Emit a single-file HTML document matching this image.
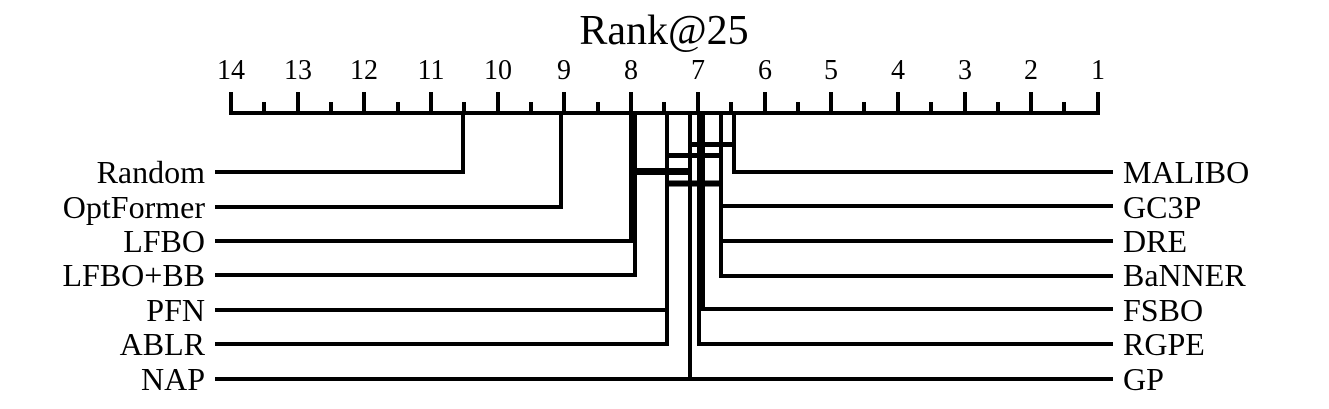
<!DOCTYPE html>
<html><head><meta charset="utf-8"><style>
html,body{margin:0;padding:0;background:#fff;}
svg{display:block;}
text{font-family:"Liberation Serif",serif;fill:#000;}
</style></head><body>
<svg width="1329" height="409" viewBox="0 0 1329 409" xmlns="http://www.w3.org/2000/svg">
<text x="664" y="44" font-size="42" text-anchor="middle">Rank@25</text>
<g font-size="28" text-anchor="middle">
<text x="231" y="79">14</text><text x="298" y="79">13</text><text x="364" y="79">12</text>
<text x="431" y="79">11</text><text x="498" y="79">10</text><text x="564" y="79">9</text>
<text x="631" y="79">8</text><text x="698" y="79">7</text><text x="765" y="79">6</text>
<text x="831" y="79">5</text><text x="898" y="79">4</text><text x="965" y="79">3</text>
<text x="1031" y="79">2</text><text x="1098" y="79">1</text>
</g>
<g stroke="#000" stroke-width="4" fill="none">
<line x1="229" y1="113" x2="1100" y2="113"/>
<path d="M231 92V113M298 92V113M364 92V113M431 92V113M498 92V113M564 92V113M631 92V113M698 92V113M765 92V113M831 92V113M898 92V113M965 92V113M1031 92V113M1098 92V113"/>
<path d="M264 102V113M331 102V113M398 102V113M464 102V113M531 102V113M598 102V113M664 102V113M731 102V113M798 102V113M864 102V113M931 102V113M998 102V113M1064 102V113"/>
<!-- left -->
<path d="M215 172H463V113"/>
<path d="M215 207H561V113"/>
<path d="M215 241H631V113"/>
<path d="M215 275H635V113"/>
<path d="M215 310H667V113"/>
<path d="M215 344H667V113"/>
<path d="M215 379H690V113"/>
<!-- right -->
<path d="M1113 172H734V113"/>
<path d="M1113 206H721V113"/>
<path d="M1113 241H721V113"/>
<path d="M1113 276H721V113"/>
<path d="M1113 309H703V113"/>
<path d="M1113 344H699V113"/>
<path d="M1113 379H690V113"/>
</g>
<g stroke="#000" fill="none">
<line x1="691" y1="144.5" x2="735" y2="144.5" stroke-width="5"/>
<line x1="665" y1="155.5" x2="723" y2="155.5" stroke-width="5"/>
<line x1="633" y1="171.5" x2="692" y2="171.5" stroke-width="7"/>
<line x1="665" y1="183.5" x2="723" y2="183.5" stroke-width="6"/>
</g>
<g font-size="32" text-anchor="end">
<text x="205" y="183">Random</text><text x="205" y="218">OptFormer</text>
<text x="205" y="252">LFBO</text><text x="205" y="286">LFBO+BB</text>
<text x="205" y="321">PFN</text><text x="205" y="355">ABLR</text>
<text x="205" y="390">NAP</text>
</g>
<g font-size="32">
<text x="1123" y="183">MALIBO</text><text x="1123" y="218">GC3P</text>
<text x="1123" y="252">DRE</text><text x="1123" y="286">BaNNER</text>
<text x="1123" y="321">FSBO</text><text x="1123" y="355">RGPE</text>
<text x="1123" y="390">GP</text>
</g>
</svg>
</body></html>
